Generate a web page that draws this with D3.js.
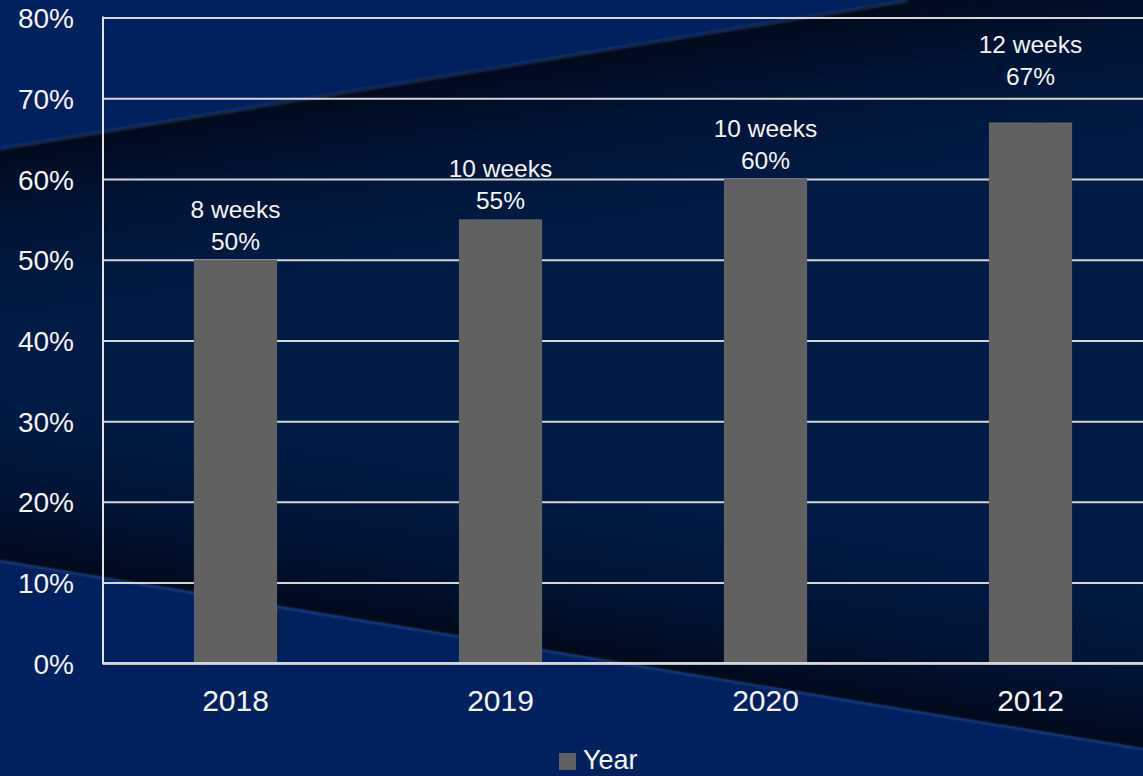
<!DOCTYPE html>
<html>
<head>
<meta charset="utf-8">
<script src="https://cdn.jsdelivr.net/npm/d3@7"></script>
<style>
  html, body { margin: 0; padding: 0; background: #00215e; overflow: hidden; }
  svg { display: block; }
  text { font-family: "Liberation Sans", Arial, sans-serif; fill: #f4f4f4; }
</style>
</head>
<body>
<svg id="chart" width="1143" height="776"></svg>
<script>
// Chart data
const categories = ["2018", "2019", "2020", "2012"];
const shares = [0.50, 0.55, 0.60, 0.67];
const durations = ["8 weeks", "10 weeks", "10 weeks", "12 weeks"];
const yTicks = [0, 0.1, 0.2, 0.3, 0.4, 0.5, 0.6, 0.7, 0.8];
const seriesName = "Year";

const W = 1143, H = 776;
const svg = d3.select("#chart");
const defs = svg.append("defs");

// ---- Backdrop: bright navy with a darker diagonal band across the middle
svg.append("rect").attr("width", W).attr("height", H).attr("fill", "#00215e");

const bandPts = [[0, 148], [908, 0], [W, 0], [W, 748], [0, 560]];
defs.append("clipPath").attr("id", "bandClip")
  .append("polygon").attr("points", bandPts.map(p => p.join(",")).join(" "));

svg.append("polygon")
  .attr("points", bandPts.map(p => p.join(",")).join(" "))
  .attr("fill", "#001b44");

// shading along the upper and lower edges of the dark band
function edgeShade(id, x1, y1, x2, y2) {
  const g = defs.append("linearGradient").attr("id", id)
    .attr("gradientUnits", "userSpaceOnUse")
    .attr("x1", x1).attr("y1", y1).attr("x2", x2).attr("y2", y2);
  g.append("stop").attr("offset", 0).attr("stop-color", "#000817").attr("stop-opacity", 0.9);
  g.append("stop").attr("offset", 0.45).attr("stop-color", "#000a20").attr("stop-opacity", 0.4);
  g.append("stop").attr("offset", 1).attr("stop-color", "#000a20").attr("stop-opacity", 0);
  svg.append("rect").attr("width", W).attr("height", H)
    .attr("clip-path", "url(#bandClip)")
    .attr("fill", `url(#${id})`);
}
edgeShade("shadeTop", 454, 74, 454 + 0.161 * 170, 74 + 0.987 * 170);
edgeShade("shadeBottom", 571, 654, 571 + 0.162 * 160, 654 - 0.987 * 160);

// faint highlight along the band edges
const glow = defs.append("filter").attr("id", "soft");
glow.append("feGaussianBlur").attr("stdDeviation", 1.2);
svg.append("line").attr("x1", 0).attr("y1", 149).attr("x2", 908).attr("y2", 1)
  .attr("stroke", "#5a78c0").attr("stroke-opacity", 0.35).attr("stroke-width", 2.5)
  .attr("filter", "url(#soft)");
svg.append("line").attr("x1", 0).attr("y1", 561).attr("x2", W).attr("y2", 749)
  .attr("stroke", "#5a78c0").attr("stroke-opacity", 0.3).attr("stroke-width", 2.5)
  .attr("filter", "url(#soft)");

// ---- Scales
const plotLeft = 103, plotRight = 1163, plotTop = 17.5, plotBottom = 663.3;
const x = d3.scaleBand().domain(categories)
  .range([plotLeft, plotRight]).paddingInner(0.686).paddingOuter(0.343);
const y = d3.scaleLinear().domain([0, 0.8]).range([plotBottom, plotTop]);

// ---- Gridlines
const yAxis = d3.axisLeft(y).tickValues(yTicks)
  .tickSize(-(plotRight - plotLeft))
  .tickFormat(d3.format(".0%"))
  .tickPadding(29);
const gy = svg.append("g").attr("transform", `translate(${plotLeft},0)`).call(yAxis);
gy.select(".domain").remove();
gy.selectAll(".tick line").attr("stroke", "#d6d6d6").attr("stroke-width", 2);
gy.selectAll(".tick text")
  .attr("font-size", 28).attr("fill", "#f4f4f4")
  .attr("dy", "0.36em");

// vertical axis line
svg.append("line")
  .attr("x1", plotLeft).attr("x2", plotLeft)
  .attr("y1", y(0.8) - 1).attr("y2", y(0) + 1)
  .attr("stroke", "#e2e2e2").attr("stroke-width", 2);

// ---- Bars
svg.append("g").selectAll("rect")
  .data(categories)
  .join("rect")
  .attr("x", d => x(d))
  .attr("width", x.bandwidth())
  .attr("y", (d, i) => y(shares[i]))
  .attr("height", (d, i) => y(0) - y(shares[i]))
  .attr("fill", "#616161");

// baseline redrawn over the bars
svg.append("line")
  .attr("x1", plotLeft).attr("x2", plotRight)
  .attr("y1", y(0)).attr("y2", y(0))
  .attr("stroke", "#d6d6d6").attr("stroke-width", 2.4);

// ---- Value labels: duration on the first line, share on the second
const fmt = d3.format(".0%");
const lift = i => (i === categories.length - 1 ? 27 : 0); // top label kept clear of the bar
const labels = svg.append("g").selectAll("text")
  .data(categories)
  .join("text")
  .attr("text-anchor", "middle")
  .attr("font-size", 24.5)
  .attr("x", d => x(d) + x.bandwidth() / 2);
labels.append("tspan")
  .attr("x", d => x(d) + x.bandwidth() / 2)
  .attr("y", (d, i) => y(shares[i]) - 42 - lift(i))
  .text((d, i) => durations[i]);
labels.append("tspan")
  .attr("x", d => x(d) + x.bandwidth() / 2)
  .attr("y", (d, i) => y(shares[i]) - 10 - lift(i))
  .text((d, i) => fmt(shares[i]));

// ---- Category axis
const xAxis = d3.axisBottom(x).tickSize(0).tickPadding(26);
const gx = svg.append("g").attr("transform", `translate(0,${plotBottom})`).call(xAxis);
gx.select(".domain").remove();
gx.selectAll(".tick text").attr("font-size", 30).attr("fill", "#f4f4f4");

// ---- Legend
const legend = svg.append("g").attr("transform", "translate(559,753)");
legend.append("rect").attr("width", 17).attr("height", 17).attr("fill", "#616161");
legend.append("text").attr("x", 24).attr("y", 16).attr("font-size", 27).text(seriesName);
</script>
</body>
</html>
